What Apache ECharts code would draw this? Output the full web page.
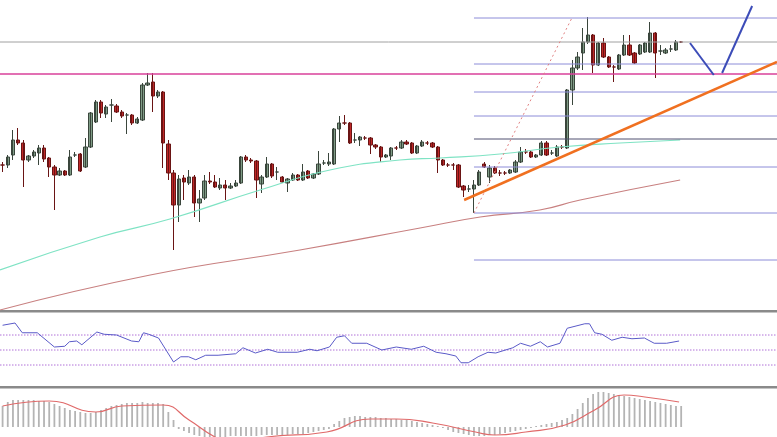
<!DOCTYPE html>
<html><head><meta charset="utf-8">
<script src="https://cdn.jsdelivr.net/npm/echarts@6/dist/echarts.min.js"></script>
<style>html,body{margin:0;padding:0;background:#fff}#c{width:777px;height:437px}</style>
</head><body><div id="c"></div>
<script>
// price values in chart units (axis inverted: smaller = higher on chart)
const opens  = [165,165,155,140,143,160,156,153,148,158,167,175,171,175,155,154,167,147,122,102,114,105,106,112,115,115,123,120,85,82,96,92,144,173,205,178,183,177,203,198,181,182,188,185,188,186,183,157,160,161,184,177,164,172,177,183,180,175,180,171,178,174,163,164,164,129,123,123,140,140,138,138,145,147,157,156,148,148,142,143,153,146,143,143,147,160,165,165,165,186,189,189,185,164,177,168,173,173,173,172,162,152,152,157,155,143,153,156,147,148,90,68,53,42,35,65,43,57,67,69,55,45,53,54,52,52,33,51,53,49,50,42];
const closes = [165,157,140,143,160,156,152,148,159,167,175,171,175,157,155,171,147,113,102,113,107,105,112,116,115,123,119,85,83,96,92,143,173,205,179,182,177,203,199,181,182,187,185,188,186,183,157,160,161,180,177,164,176,172,182,179,175,180,172,178,174,164,163,162,129,123,123,143,140,137,138,145,147,157,155,148,148,142,144,153,146,142,143,147,160,165,165,165,187,190,189,185,172,167,168,173,173,173,170,162,152,152,157,155,143,155,153,147,147,90,68,57,42,35,65,43,57,67,67,55,45,55,63,45,43,33,53,51,50,49,42,42];
const highs  = [162,155,130,128,140,155,150,145,145,157,165,168,170,150,152,153,138,112,100,100,105,99,104,110,113,114,117,83,73,73,90,91,140,170,175,175,170,175,190,175,172,175,178,180,183,180,156,155,158,160,175,157,163,167,176,178,173,174,164,170,173,151,160,153,128,116,115,122,133,136,136,137,144,146,154,147,146,140,140,142,145,140,141,142,146,159,163,163,164,185,185,180,170,162,165,166,170,171,169,160,147,149,150,154,141,141,150,145,145,89,60,52,28,17,34,42,38,56,65,54,35,35,52,44,42,22,32,45,48,45,40,41];
const lows   = [172,168,160,145,187,162,158,165,162,177,210,176,176,176,157,172,168,148,123,118,118,122,113,118,134,125,124,121,86,112,98,168,180,250,222,200,185,217,222,200,184,188,190,200,189,187,184,162,163,198,193,178,178,180,183,192,181,181,181,179,179,175,165,166,165,142,125,144,143,146,140,154,149,162,158,160,150,149,145,154,154,147,145,148,173,166,167,170,188,197,192,213,186,168,183,174,176,175,174,173,163,154,158,158,156,156,155,157,149,149,105,70,70,44,73,66,58,68,82,70,56,56,64,55,53,53,78,55,54,52,51,43];

const maFastX = [-0.5,18.8,32.3,49.7,63.2,76.7,84.4,96,107.6,119.2,130.8];
const maFastY = [270,237,219,190,170,160,158,154,147,143,140];
const maSlowX = [-0.5,28.5,57.4,80.6,92.2,103.7,111.5,130.8];
const maSlowY = [310,275,250,228,217,210,200,180];
const fibLevels = [18,64,92,116,167,213,260];
const fibDark = 139;
const greyLevel = 42;
const pinkLevel = 74;

const rsiX = [0,2.4,3.8,6.7,10,12,12.9,14.3,15.3,18.2,19.6,22,24.9,26.3,27.2,28.2,30.1,33,34.4,35.9,37.3,39.2,41.6,45,46.4,48.8,51.2,53.1,56.9,59.3,60.7,63.1,64.5,66,67.4,70.3,73.2,76,78.9,81.3,83.7,85.6,87.5,88.5,89.9,91.8,93.7,95.2,98.5,100,101.9,103.8,105.2,107.6,109,112.4,113.3,114.3,115.7,117.6,119.6,121.5,123.9,125.8,128.2,130.6];
const rsiV = [83,86,73,73,54,55,61,62,57,74,71,70,62,61,73,71,66,34,41,41,37,43,43,45,53,46,51,47,47,51,49,54,67,69,59,59,50,54,51,55,47,45,42,33,33,41,47,46,53,59,55,61,54,59,79,85,85,73,71,63,67,65,66,59,59,62];
const rsiLevels = [70,50,30];

const macdHist = [21,25,27,27,27,27,27,26,26,25,
 23,21,19,17,16,15,14,14,15,
 17,19,21,22,23,24,24,24,25,24,24,24,23,
 15,7,
 -2,-4,-6,-8,-9,-10,-10,
 -10,-10,-10,-9,-9,-9,-9,-9,-9,-8,-8,-8,-8,-8,-8,-7,-7,-7,-6,-5,-4,-3,-2,
 3,6,9,10,11,11,10,10,10,9,9,8,8,7,7,6,5,4,3,2,1,-1,-3,
 -5,-6,-7,-8,-9,-9,-9,-8,-8,-7,-6,-5,-4,-3,-2,-1,1,2,3,
 4,5,7,9,
 13,18,24,29,33,35,35,34,
 33,32,31,30,29,28,27,26,25,24,23,22,21,21];
const sigX = [0,9,18,23,31,36,41,44.5,51,62.6,71,76,83,91.3,95,101,108.6,114.3,120,124,130.6];
const sigV = [21,26,15,21,22,7,-10,-17,-10,-5,8,8,4,-5,-8,-5,2,17,32,30,25];

const N = 150;
const cats = Array.from({length:N},(_,i)=>String(i));
const candleData = opens.map((o,i)=>[o,closes[i],lows[i],highs[i]]);
const zip=(a,b)=>a.map((v,i)=>[v,b[i]]);
const hline=(y)=>[[91,y],[149.5,y]];
const XMIN=-0.5, XMAX=149.5;
const ax = (g)=>({type:'value',gridIndex:g,min:XMIN,max:XMAX,show:false});

const series = [
 {type:'candlestick',xAxisIndex:0,yAxisIndex:0,data:candleData,barWidth:3.8,
  itemStyle:{color:'#c02828',color0:'#7f9c86',borderColor:'#6a1414',borderColor0:'#3a463c',borderWidth:1}},
 {type:'line',xAxisIndex:1,yAxisIndex:1,data:zip(maFastX,maFastY),smooth:true,symbol:'none',lineStyle:{color:'#7fe3c4',width:1.2}},
 {type:'line',xAxisIndex:1,yAxisIndex:1,data:zip(maSlowX,maSlowY),smooth:true,symbol:'none',lineStyle:{color:'#c88080',width:1.2}},
 {type:'line',xAxisIndex:1,yAxisIndex:1,data:[[XMIN,greyLevel],[XMAX,greyLevel]],symbol:'none',lineStyle:{color:'#a0a0a0',width:1}},
];
fibLevels.forEach(y=>series.push({type:'line',xAxisIndex:1,yAxisIndex:1,data:hline(y),symbol:'none',lineStyle:{color:'#8c8cd8',width:1}}));
series.push({type:'line',xAxisIndex:1,yAxisIndex:1,data:hline(fibDark),symbol:'none',lineStyle:{color:'#505070',width:1}});
series.push({type:'line',xAxisIndex:1,yAxisIndex:1,data:[[XMIN,pinkLevel],[XMAX,pinkLevel]],symbol:'none',lineStyle:{color:'#d8409a',width:1.5}});
series.push({type:'line',xAxisIndex:1,yAxisIndex:1,data:[[91,213],[109.9,18]],symbol:'none',lineStyle:{color:'#e08080',width:1,type:[2,3]}});
series.push({type:'line',xAxisIndex:1,yAxisIndex:1,data:[[89.1,200],[149.5,62]],symbol:'none',lineStyle:{color:'#f07020',width:2.5}});
series.push({type:'line',xAxisIndex:1,yAxisIndex:1,data:[[132.7,43],[137.3,75]],symbol:'none',lineStyle:{color:'#3c4cb8',width:2}});
series.push({type:'line',xAxisIndex:1,yAxisIndex:1,data:[[138.9,73],[144.7,6]],symbol:'none',lineStyle:{color:'#3c4cb8',width:2}});
// RSI
rsiLevels.forEach(v=>series.push({type:'line',xAxisIndex:2,yAxisIndex:2,data:[[XMIN,v],[XMAX,v]],symbol:'none',lineStyle:{color:'#b070d8',width:1,type:[1.5,1.5]}}));
series.push({type:'line',xAxisIndex:2,yAxisIndex:2,data:zip(rsiX,rsiV),symbol:'none',lineStyle:{color:'#5a5ac8',width:1}});
// MACD
series.push({type:'bar',xAxisIndex:3,yAxisIndex:3,data:macdHist,barWidth:1.8,itemStyle:{color:'#b4b4b4'}});
series.push({type:'line',xAxisIndex:4,yAxisIndex:4,data:zip(sigX,sigV),smooth:true,symbol:'none',lineStyle:{color:'#e06a6a',width:1.2}});

const chart = echarts.init(document.getElementById('c'));
chart.setOption({
 animation:false,
 grid:[
  {left:0,right:0,top:0,height:310},
  {left:0,right:0,top:0,height:310},
  {left:0,right:0,top:312.5,height:75},
  {left:0,right:0,top:390,height:47},
  {left:0,right:0,top:390,height:47}
 ],
 xAxis:[
  {type:'category',gridIndex:0,data:cats,show:false},
  ax(1),ax(2),
  {type:'category',gridIndex:3,data:cats,show:false},
  ax(4)
 ],
 yAxis:[
  {type:'value',gridIndex:0,inverse:true,min:0,max:310,show:false},
  {type:'value',gridIndex:1,inverse:true,min:0,max:310,show:false},
  {type:'value',gridIndex:2,min:0,max:100,show:false},
  {type:'value',gridIndex:3,min:-10,max:37,show:false},
  {type:'value',gridIndex:4,min:-10,max:37,show:false}
 ],
 graphic:[
  {type:'rect',shape:{x:0,y:310,width:777,height:2.5},style:{fill:'#8a8a8a'}},
  {type:'rect',shape:{x:0,y:386,width:777,height:2.5},style:{fill:'#8a8a8a'}}
 ],
 series
});
</script></body></html>
